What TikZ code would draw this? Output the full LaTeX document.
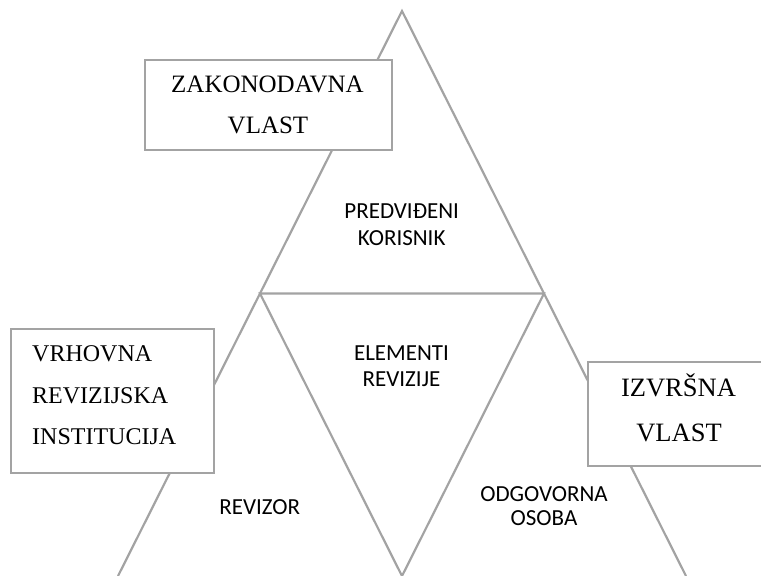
\documentclass[tikz,border=0pt]{standalone}
\usepackage{fontspec}
\setmainfont{Liberation Serif}
\newfontfamily\calib{Carlito}
\usetikzlibrary{calc}
\definecolor{lineg}{RGB}{163,163,163}
\begin{document}
\begin{tikzpicture}[x=1pt,y=-1pt,
  edge/.style={draw=lineg,line width=2.2pt,line join=miter},
  boxnode/.style={draw=lineg,line width=2.4pt,fill=white,inner sep=0pt,anchor=north west},
  serif/.style={anchor=base,inner sep=0pt},
  sans/.style={anchor=base,inner sep=0pt,font=\calib\fontsize{23}{27}\selectfont}]
\useasboundingbox (0,0) rectangle (761,576);
\clip (0,0) rectangle (761,576);
% triangle corners
\coordinate (apex) at (402,11);
\coordinate (bl) at (118,576);
\coordinate (br) at (686,576);
\coordinate (ml) at ($(apex)!0.5!(bl)$);
\coordinate (mr) at ($(apex)!0.5!(br)$);
\coordinate (mb) at ($(bl)!0.5!(br)$);
\draw[edge] (bl) -- (apex) -- (br);
\draw[edge] (ml) -- (mr) -- (mb) -- cycle;
% boxes
\node[boxnode,minimum width=247pt,minimum height=90pt] (zak) at (144,59) {};
\node[boxnode,minimum width=203pt,minimum height=144pt] (vrh) at (10,328) {};
\node[boxnode,minimum width=240pt,minimum height=104pt] (izv) at (587,361) {};
% box texts
\begin{scope}[font=\fontsize{25}{30}\selectfont]
\node[serif] (zak1) at (267.5,92.3) {ZAKONODAVNA};
\node[serif] (zak2) at (268,133.3) {VLAST};
\end{scope}
\begin{scope}[font=\fontsize{24}{28}\selectfont]
\node[serif,anchor=base west] (vrh1) at (32,361) {VRHOVNA};
\node[serif,anchor=base west] (vrh2) at (32,403.3) {REVIZIJSKA};
\node[serif,anchor=base west] (vrh3) at (32,444.3) {INSTITUCIJA};
\end{scope}
\begin{scope}[font=\fontsize{26.5}{32}\selectfont]
\node[serif] (izv1) at (678.5,396.7) {IZVRŠNA};
\node[serif] (izv2) at (679,441.7) {VLAST};
\end{scope}
% inner labels
\node[sans] (pk1) at (401.7,218.3) {PREDVIĐENI};
\node[sans] (pk2) at (401.7,245) {KORISNIK};
\node[sans] (er1) at (401.5,360.5) {ELEMENTI};
\node[sans] (er2) at (401.5,386) {REVIZIJE};
\node[sans] (rev) at (259.7,514) {REVIZOR};
\node[sans] (oo1) at (544,501.7) {ODGOVORNA};
\node[sans] (oo2) at (544,525) {OSOBA};
\end{tikzpicture}
\end{document}
